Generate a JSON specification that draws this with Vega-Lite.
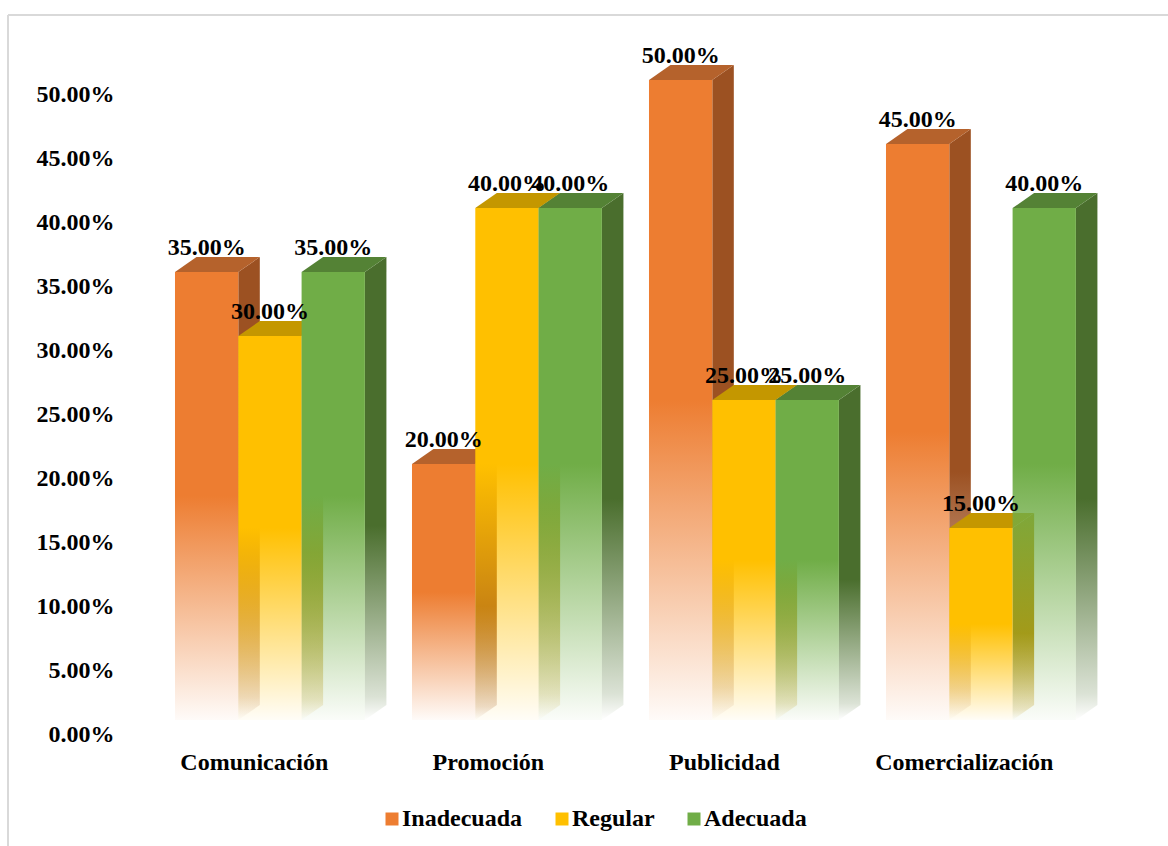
{
  "$schema": "https://vega.github.io/schema/vega-lite/v6.json",
  "autosize": "none",
  "width": 1160,
  "height": 831,
  "padding": {"left": 8, "top": 15, "right": 0, "bottom": 0},
  "background": "white",
  "config": {
    "view": {"stroke": null},
    "font": "Liberation Serif",
    "axis": {"grid": false, "domain": false, "ticks": false, "title": null}
  },
  "data": {
    "values": [
      {"criterion": "Comunicación", "level": "Inadecuada", "share": 0.35},
      {"criterion": "Comunicación", "level": "Regular", "share": 0.30},
      {"criterion": "Comunicación", "level": "Adecuada", "share": 0.35},
      {"criterion": "Promoción", "level": "Inadecuada", "share": 0.20},
      {"criterion": "Promoción", "level": "Regular", "share": 0.40},
      {"criterion": "Promoción", "level": "Adecuada", "share": 0.40},
      {"criterion": "Publicidad", "level": "Inadecuada", "share": 0.50},
      {"criterion": "Publicidad", "level": "Regular", "share": 0.25},
      {"criterion": "Publicidad", "level": "Adecuada", "share": 0.25},
      {"criterion": "Comercialización", "level": "Inadecuada", "share": 0.45},
      {"criterion": "Comercialización", "level": "Regular", "share": 0.15},
      {"criterion": "Comercialización", "level": "Adecuada", "share": 0.40}
    ]
  },
  "transform": [
    {"calculate": "indexof(['Comunicación','Promoción','Publicidad','Comercialización'], datum.criterion)", "as": "group"},
    {"calculate": "indexof(['Inadecuada','Regular','Adecuada'], datum.level)", "as": "slot"},
    {"calculate": "datum.group * 3.744 + datum.slot", "as": "left"},
    {"calculate": "datum.left + 1", "as": "right"},
    {"calculate": "datum.left + 0.5", "as": "middle"},
    {"calculate": "datum.criterion + '|' + datum.level", "as": "bar"}
  ],
  "layer": [
    {
      "description": "Invisible marks that carry the axes and the legend",
      "mark": {"type": "square", "opacity": 0, "size": 169},
      "encoding": {
        "x": {
          "field": "middle",
          "type": "quantitative",
          "scale": {"domain": [-2.638, 15.687], "nice": false, "zero": false},
          "axis": {
            "orient": "bottom",
            "values": [1.246, 4.943, 8.671, 12.462],
            "labelExpr": "['Comunicación','Promoción','Publicidad','Comercialización'][round((datum.value - 1.246) / 3.744)]",
            "offset": -84, "labelPadding": 0, "labelBaseline": "middle",
            "labelFont": "Liberation Serif", "labelFontSize": 24, "labelFontWeight": "bold", "labelColor": "black", "labelFlush": false, "labelOverlap": false
          }
        },
        "y": {
          "field": "share",
          "type": "quantitative",
          "scale": {"domain": [-0.0984, 0.5508], "nice": false, "zero": false},
          "axis": {
            "orient": "left",
            "values": [0, 0.05, 0.1, 0.15, 0.2, 0.25, 0.3, 0.35, 0.4, 0.45, 0.5],
            "format": ".2%",
            "offset": -106, "labelPadding": 0, "labelOffset": 14, "labelAlign": "right",
            "labelFont": "Liberation Serif", "labelFontSize": 24, "labelFontWeight": "bold", "labelColor": "black", "labelOverlap": false, "labelFlush": false
          }
        },
        "color": {
          "field": "level",
          "type": "nominal",
          "scale": {"domain": ["Inadecuada", "Regular", "Adecuada"], "range": ["#ed7d31", "#ffc000", "#70ad47"]},
          "legend": {
            "title": null,
            "orient": "none",
            "legendX": 372,
            "legendY": 792,
            "direction": "horizontal",
            "columns": 3,
            "symbolType": "square",
            "symbolSize": 169,
            "symbolOpacity": 1,
            "symbolStrokeWidth": 0,
            "labelFont": "Liberation Serif",
            "labelFontSize": 24,
            "labelFontWeight": "bold",
            "labelColor": "black",
            "labelOffset": -2,
            "columnPadding": 27,
            "labelLimit": 300,
            "encoding": {
              "symbols": {
                "update": {
                  "fill": [
                    {"test": "datum.value === 'Inadecuada'", "value": {"gradient": "linear", "x1": 0, "y1": 0, "x2": 0, "y2": 1, "stops": [{"offset": 0, "color": "#ed7d31"}, {"offset": 0.55, "color": "#ed7d31"}, {"offset": 1, "color": "rgba(237,125,49,0.1)"}]}},
                    {"test": "datum.value === 'Regular'", "value": {"gradient": "linear", "x1": 0, "y1": 0, "x2": 0, "y2": 1, "stops": [{"offset": 0, "color": "#ffc000"}, {"offset": 0.55, "color": "#ffc000"}, {"offset": 1, "color": "rgba(255,192,0,0.1)"}]}},
                    {"value": {"gradient": "linear", "x1": 0, "y1": 0, "x2": 0, "y2": 1, "stops": [{"offset": 0, "color": "#70ad47"}, {"offset": 0.55, "color": "#70ad47"}, {"offset": 1, "color": "rgba(112,173,71,0.1)"}]}}
                  ]
                }
              }
            }
          }
        }
      }
    },
    {
      "description": "Chart frame, top edge",
      "data": {"values": [{"edge": "top"}]},
      "mark": {"type": "rule", "color": "#d9d9d9", "strokeWidth": 2},
      "encoding": {"y": {"datum": 0.5508, "type": "quantitative"}}
    },
    {
      "description": "Chart frame, left edge",
      "data": {"values": [{"edge": "left"}]},
      "mark": {"type": "rule", "color": "#d9d9d9", "strokeWidth": 2},
      "encoding": {"x": {"datum": -2.638, "type": "quantitative"}}
    },
    {
      "description": "Right-hand side faces of the bars",
      "transform": [
        {"fold": ["left", "right"], "as": ["corner", "cornerX"]},
        {"calculate": "datum.corner === 'right' ? 1 : 0", "as": "depth"},
        {"calculate": "datum.right + datum.depth * 0.34", "as": "sideX"},
        {"calculate": "datum.share + datum.depth * 0.0117", "as": "sideTop"},
        {"calculate": "datum.depth * 0.0117", "as": "sideBase"}
      ],
      "mark": {"type": "area"},
      "encoding": {
        "x": {"field": "sideX", "type": "quantitative"},
        "y": {"field": "sideTop", "type": "quantitative", "stack": null},
        "y2": {"field": "sideBase"},
        "detail": {"field": "bar"},
        "fill": {
          "condition": [
            {"test": "datum.level === 'Inadecuada'", "value": {"gradient": "linear", "x1": 0, "y1": 0, "x2": 0, "y2": 1, "stops": [{"offset": 0, "color": "#9c5122"}, {"offset": 0.58, "color": "#9c5122"}, {"offset": 0.95, "color": "rgba(156,81,34,0.2)"}, {"offset": 1, "color": "rgba(156,81,34,0)"}]}},
            {"test": "datum.level === 'Regular'", "value": {"gradient": "linear", "x1": 0, "y1": 0, "x2": 0, "y2": 1, "stops": [{"offset": 0, "color": "#bf9000"}, {"offset": 0.58, "color": "#bf9000"}, {"offset": 0.95, "color": "rgba(191,144,0,0.2)"}, {"offset": 1, "color": "rgba(191,144,0,0)"}]}}
          ],
          "value": {"gradient": "linear", "x1": 0, "y1": 0, "x2": 0, "y2": 1, "stops": [{"offset": 0, "color": "#4a6e2d"}, {"offset": 0.58, "color": "#4a6e2d"}, {"offset": 0.95, "color": "rgba(74,110,45,0.2)"}, {"offset": 1, "color": "rgba(74,110,45,0)"}]}
        }
      }
    },
    {
      "description": "Top faces of the bars",
      "transform": [
        {"fold": ["left", "right"], "as": ["corner", "cornerX"]},
        {"calculate": "datum.corner === 'right' ? 1 : 0", "as": "depth"},
        {"calculate": "datum.left + datum.depth * 0.34", "as": "topLeft"},
        {"calculate": "datum.right + datum.depth * 0.34", "as": "topRight"},
        {"calculate": "datum.share + datum.depth * 0.0117", "as": "topY"}
      ],
      "mark": {"type": "area", "orient": "horizontal"},
      "encoding": {
        "y": {"field": "topY", "type": "quantitative"},
        "x": {"field": "topLeft", "type": "quantitative", "stack": null},
        "x2": {"field": "topRight"},
        "detail": {"field": "bar"},
        "fill": {
          "condition": [
            {"test": "datum.level === 'Inadecuada'", "value": "#b5622c"},
            {"test": "datum.level === 'Regular'", "value": "#c49700"}
          ],
          "value": "#548235"
        }
      }
    },
    {
      "description": "Front faces of the bars",
      "mark": {"type": "rect"},
      "encoding": {
        "x": {"field": "left", "type": "quantitative"},
        "x2": {"field": "right"},
        "y": {"field": "share", "type": "quantitative"},
        "y2": {"datum": 0},
        "fill": {
          "condition": [
            {"test": "datum.level === 'Inadecuada'", "value": {"gradient": "linear", "x1": 0, "y1": 0, "x2": 0, "y2": 1, "stops": [{"offset": 0, "color": "#ed7d31"}, {"offset": 0.5, "color": "#ed7d31"}, {"offset": 1, "color": "rgba(237,125,49,0.03)"}]}},
            {"test": "datum.level === 'Regular'", "value": {"gradient": "linear", "x1": 0, "y1": 0, "x2": 0, "y2": 1, "stops": [{"offset": 0, "color": "#ffc000"}, {"offset": 0.5, "color": "#ffc000"}, {"offset": 1, "color": "rgba(255,192,0,0.03)"}]}}
          ],
          "value": {"gradient": "linear", "x1": 0, "y1": 0, "x2": 0, "y2": 1, "stops": [{"offset": 0, "color": "#70ad47"}, {"offset": 0.5, "color": "#70ad47"}, {"offset": 1, "color": "rgba(112,173,71,0.03)"}]}
        }
      }
    },
    {
      "description": "Value labels above each bar",
      "mark": {"type": "text", "fontSize": 24, "fontWeight": "bold", "color": "black", "dy": -24, "baseline": "middle", "align": "center", "font": "Liberation Serif"},
      "encoding": {
        "x": {"field": "middle", "type": "quantitative"},
        "y": {"field": "share", "type": "quantitative"},
        "text": {"field": "share", "type": "quantitative", "format": ".2%"}
      }
    }
  ]
}
